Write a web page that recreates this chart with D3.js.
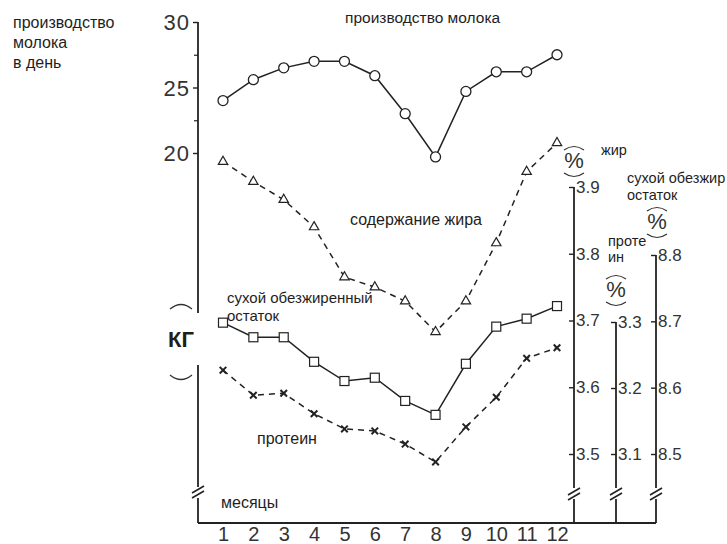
<!DOCTYPE html>
<html>
  <head>
    <meta charset="utf-8">
    <style>
      body { margin: 0; background: #ffffff; }
      text { font-family: "Liberation Sans", Arial, sans-serif; fill: #1e1e1e; }
      .big { font-size: 22px; font-weight: 300; fill: #333; letter-spacing: 1px; }
      .lab { font-size: 15.5px; }
      .tk { font-size: 17px; fill: #333; }
    </style>
  </head>
  <body>
    <svg id="chart"></svg>
  </body>
</html>

<script src="https://d3js.org/d3.v7.min.js"></script>

<script>
  const WIDTH = 727;
  const HEIGHT = 544;

  // data
  const months = [1, 2, 3, 4, 5, 6, 7, 8, 9, 10, 11, 12];
  const milk = [24.0, 25.6, 26.5, 27.0, 27.0, 25.9, 23.0, 19.7, 24.7, 26.2, 26.2, 27.5];
  const fat = [3.938, 3.908, 3.881, 3.840, 3.765, 3.750, 3.729, 3.683, 3.729, 3.816, 3.923, 3.966];
  const snf = [8.698, 8.676, 8.676, 8.639, 8.610, 8.615, 8.580, 8.559, 8.636, 8.692, 8.704, 8.723];
  const protein = [3.227, 3.189, 3.192, 3.161, 3.138, 3.135, 3.115, 3.088, 3.141, 3.186, 3.245, 3.261];

  const kgTicks = [20, 25, 30];
  const kgMinor = [22.5, 27.5];
  const fatTicks = [3.5, 3.6, 3.7, 3.8, 3.9];
  const protTicks = [3.1, 3.2, 3.3];
  const snfTicks = [8.5, 8.6, 8.7, 8.8];

  let svg = d3.select('#chart')
    .attr('width', WIDTH)
    .attr('height', HEIGHT);

  // scales
  let x = d3.scaleLinear().domain([1, 12]).range([223, 557]);
  let yKg = d3.scaleLinear().domain([20, 30]).range([153, 22]);
  let yFat = d3.scaleLinear().domain([3.5, 3.9]).range([454, 187]);
  let yProt = d3.scaleLinear().domain([3.1, 3.3]).range([454, 322]);
  let ySnf = d3.scaleLinear().domain([8.5, 8.8]).range([454, 255]);

  const AX_L = 198, AX_FAT = 574, AX_PROT = 616, AX_SNF = 656, BOTTOM = 523;

  // vertical line pieces
  function vline(xp, y1, y2) {
    svg.append('line')
      .attr('x1', xp).attr('x2', xp)
      .attr('y1', y1).attr('y2', y2)
      .attr('stroke', '#222').attr('stroke-width', 1.8);
  }

  // double slash break mark
  function breakMark(xp, yp) {
    for (let k = 0; k < 2; k++) {
      svg.append('line')
        .attr('x1', xp - 6).attr('y1', yp + 3 + k * 5)
        .attr('x2', xp + 6).attr('y2', yp - 4 + k * 5)
        .attr('stroke', '#222').attr('stroke-width', 1.6);
    }
  }

  // left kg axis
  vline(AX_L, 22, 313);
  vline(AX_L, 365, 487);
  vline(AX_L, 498, BOTTOM);
  breakMark(AX_L, 490);

  let kgAxis = svg.append('g')
    .attr('transform', 'translate(' + AX_L + ',0)')
    .call(d3.axisLeft(yKg).tickValues(kgTicks).tickSize(5).tickPadding(3));
  kgAxis.select('.domain').remove();
  kgAxis.selectAll('text').attr('class', 'big').attr('dy', '0.36em');
  kgAxis.selectAll('line').attr('stroke', '#222').attr('stroke-width', 1.4);

  let kgMinorAxis = svg.append('g')
    .attr('transform', 'translate(' + AX_L + ',0)')
    .call(d3.axisLeft(yKg).tickValues(kgMinor).tickSize(4).tickFormat(''));
  kgMinorAxis.select('.domain').remove();
  kgMinorAxis.selectAll('line').attr('stroke', '#222').attr('stroke-width', 1.2);

  // bottom axis
  svg.append('line')
    .attr('x1', AX_L).attr('x2', AX_SNF)
    .attr('y1', BOTTOM).attr('y2', BOTTOM)
    .attr('stroke', '#222').attr('stroke-width', 1.8);

  let xAxis = svg.append('g')
    .attr('transform', 'translate(0,' + BOTTOM + ')')
    .call(d3.axisBottom(x).tickValues(months).tickSize(0).tickPadding(4));
  xAxis.select('.domain').remove();
  xAxis.selectAll('text').attr('class', 'big').attr('dy', '0.71em')
    .style('font-size', '20px').style('letter-spacing', '0px');

  // right axes
  function rightAxis(xp, scale, ticks, top) {
    vline(xp, top, 488);
    vline(xp, 499, BOTTOM);
    breakMark(xp, 492);
    let g = svg.append('g')
      .attr('transform', 'translate(' + xp + ',0)')
      .call(d3.axisRight(scale).tickValues(ticks).tickSize(-5).tickPadding(2)
        .tickFormat(d3.format('.1f')));
    g.select('.domain').remove();
    g.selectAll('text').attr('class', 'tk');
    g.selectAll('line').attr('stroke', '#222').attr('stroke-width', 1.4);
  }
  rightAxis(AX_FAT, yFat, fatTicks, yFat(3.9));
  rightAxis(AX_PROT, yProt, protTicks, yProt(3.3));
  rightAxis(AX_SNF, ySnf, snfTicks, ySnf(8.8));

  // "%" with arcs above and below
  function percent(cx, cy) {
    svg.append('text')
      .attr('x', cx).attr('y', cy + 7)
      .attr('text-anchor', 'middle')
      .style('font-size', '22px').style('font-weight', 300).style('fill', '#333')
      .text('%');
    svg.append('path')
      .attr('d', 'M' + (cx - 10) + ',' + (cy - 11) + ' Q' + cx + ',' + (cy - 18) + ' ' + (cx + 10) + ',' + (cy - 11))
      .attr('fill', 'none').attr('stroke', '#333').attr('stroke-width', 1.2);
    svg.append('path')
      .attr('d', 'M' + (cx - 10) + ',' + (cy + 12) + ' Q' + cx + ',' + (cy + 19) + ' ' + (cx + 10) + ',' + (cy + 12))
      .attr('fill', 'none').attr('stroke', '#333').attr('stroke-width', 1.2);
  }
  percent(574, 161);
  percent(616, 290);
  percent(657, 222);

  // КГ with arcs
  svg.append('text')
    .attr('x', 181).attr('y', 347)
    .attr('text-anchor', 'middle')
    .style('font-size', '22px').style('font-weight', 'bold')
    .text('КГ');
  svg.append('path')
    .attr('d', 'M170,309 Q181,300 192,309')
    .attr('fill', 'none').attr('stroke', '#333').attr('stroke-width', 1.3);
  svg.append('path')
    .attr('d', 'M170,375 Q181,384 192,375')
    .attr('fill', 'none').attr('stroke', '#333').attr('stroke-width', 1.3);

  // series lines
  function series(values, scale, dashed) {
    let line = d3.line()
      .x(function(d, i) { return x(months[i]); })
      .y(function(d) { return scale(d); });
    svg.append('path')
      .datum(values)
      .attr('d', line)
      .attr('fill', 'none')
      .attr('stroke', '#222')
      .attr('stroke-width', 1.5)
      .attr('stroke-dasharray', dashed ? '6,5' : null);
  }
  series(milk, yKg, false);
  series(fat, yFat, true);
  series(snf, ySnf, false);
  series(protein, yProt, true);

  // markers
  svg.selectAll('circle.milk')
    .data(milk)
    .enter()
    .append('circle')
    .attr('cx', function(d, i) { return x(months[i]); })
    .attr('cy', function(d) { return yKg(d); })
    .attr('r', 5)
    .attr('fill', 'white')
    .attr('stroke', '#222')
    .attr('stroke-width', 1.3);

  svg.selectAll('path.fat')
    .data(fat)
    .enter()
    .append('path')
    .attr('d', d3.symbol().type(d3.symbolTriangle).size(38))
    .attr('transform', function(d, i) { return 'translate(' + x(months[i]) + ',' + yFat(d) + ')'; })
    .attr('fill', 'white')
    .attr('stroke', '#222')
    .attr('stroke-width', 1.2);

  svg.selectAll('rect.snf')
    .data(snf)
    .enter()
    .append('rect')
    .attr('x', function(d, i) { return x(months[i]) - 4.5; })
    .attr('y', function(d) { return ySnf(d) - 4.5; })
    .attr('width', 9)
    .attr('height', 9)
    .attr('fill', 'white')
    .attr('stroke', '#222')
    .attr('stroke-width', 1.2);

  svg.selectAll('path.prot')
    .data(protein)
    .enter()
    .append('path')
    .attr('d', d3.symbol().type(d3.symbolTimes).size(30))
    .attr('transform', function(d, i) { return 'translate(' + x(months[i]) + ',' + yProt(d) + ')'; })
    .attr('fill', 'none')
    .attr('stroke', '#222')
    .attr('stroke-width', 2);

  // labels
  function label(xp, yp, txt, size) {
    svg.append('text')
      .attr('class', 'lab')
      .attr('x', xp).attr('y', yp)
      .style('font-size', size ? size + 'px' : null)
      .text(txt);
  }
  label(13, 28, 'производство', 16);
  label(13, 48, 'молока', 16);
  label(13, 68, 'в день', 16);
  label(345, 23, 'производство молока');
  label(350, 225, 'содержание жира', 16);
  label(227, 303, 'сухой обезжиренный', 15);
  label(227, 321, 'остаток', 15);
  label(257, 444, 'протеин', 16);
  label(221, 508, 'месяцы', 16);
  label(601, 155, 'жир', 14.5);
  label(627, 183, 'сухой обезжир', 14.5);
  label(627, 200, 'остаток', 14.5);
  label(608, 246, 'проте', 14.5);
  label(608, 262, 'ин', 14.5);
</script>
